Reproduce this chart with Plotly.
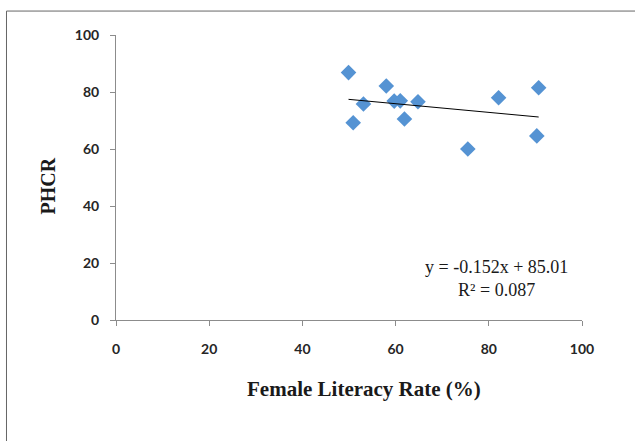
import plotly.graph_objects as go

literacy = [49.9, 50.9, 53.1, 58.0, 59.7, 61.0, 61.9, 64.8, 75.5, 82.1, 90.7, 90.3]
phcr = [86.8, 69.2, 75.8, 82.1, 76.8, 76.9, 70.5, 76.6, 60.0, 78.0, 81.5, 64.6]
slope = -0.152
intercept = 85.01
r2 = 0.087
x_ticks = [0, 20, 40, 60, 80, 100]
y_ticks = [0, 20, 40, 60, 80, 100]

x_line = [min(literacy), max(literacy)]
y_line = [slope * v + intercept for v in x_line]

fig = go.Figure()
fig.add_trace(go.Scatter(x=literacy, y=phcr, mode="markers",
                         marker=dict(symbol="diamond", size=12, color="#5593D3",
                                     line=dict(width=0)),
                         showlegend=False))
fig.add_trace(go.Scatter(x=x_line, y=y_line, mode="lines",
                         line=dict(color="black", width=1), showlegend=False))

tickfont = dict(family="Lato, Calibri, Arial", size=14, color="#262626", weight="bold")
fig.update_layout(
    width=635, height=441,
    margin=dict(l=116, r=53, t=35, b=121),
    plot_bgcolor="white", paper_bgcolor="white",
    xaxis=dict(range=[0, 100], tickvals=x_ticks, showgrid=False, zeroline=False,
               showline=True, linecolor="#8c8c8c", linewidth=1,
               ticks="outside", ticklen=5, tickcolor="#8c8c8c",
               tickfont=tickfont, ticklabelstandoff=11),
    yaxis=dict(range=[0, 100], tickvals=y_ticks, showgrid=False, zeroline=False,
               showline=True, linecolor="#8c8c8c", linewidth=1,
               ticks="outside", ticklen=5, tickcolor="#8c8c8c",
               tickfont=tickfont, ticklabelstandoff=8),
    shapes=[dict(type="rect", xref="paper", yref="paper",
                 x0=-0.235, x1=1.4, y0=-0.7, y1=1.084,
                 line=dict(color="#666666", width=1), fillcolor="rgba(0,0,0,0)",
                 layer="below")],
    annotations=[
        dict(text="<b>Female Literacy Rate (%)</b>", xref="paper", yref="paper",
             x=0.533, y=-0.243, showarrow=False, yanchor="middle",
             font=dict(family="Liberation Serif, Times New Roman", size=21, color="#1a1a1a")),
        dict(text="<b>PHCR</b>", xref="paper", yref="paper", textangle=-90,
             x=-0.145, y=0.47, showarrow=False, xanchor="center", yanchor="middle",
             font=dict(family="Liberation Serif, Times New Roman", size=20, color="#1a1a1a")),
        dict(text=f"y = {slope}x + {intercept}<br>R² = {r2}", xref="paper", yref="paper",
             x=0.816, y=0.144, showarrow=False, xanchor="center", yanchor="middle",
             font=dict(family="Liberation Serif, Times New Roman", size=18, color="#1a1a1a")),
    ],
)
fig.write_html("out.html")
